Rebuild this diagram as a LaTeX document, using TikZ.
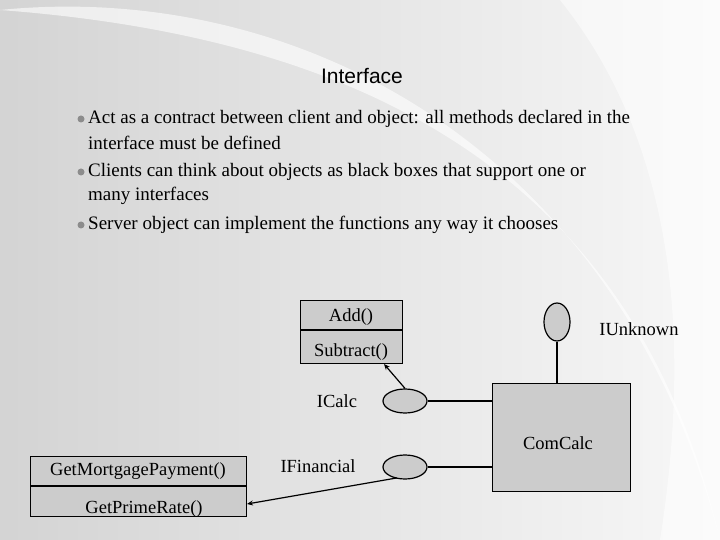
\documentclass[tikz,border=0pt]{standalone}
\usepackage{fontspec}
\setmainfont{Liberation Serif}
\setsansfont{Liberation Sans}
\usetikzlibrary{shapes.geometric,arrows.meta}
\begin{document}
\begin{tikzpicture}[x=1pt,y=-1pt,
  box/.style={draw,line width=1.2pt,fill=black!20},
  iface/.style={draw,line width=1.2pt,fill=black!20,ellipse,inner sep=0pt},
  lbl/.style={font=\fontsize{18.5}{20}\selectfont},
  bul/.style={font=\fontsize{19}{21}\selectfont,anchor=west,inner sep=0pt},
  conn/.style={line width=1.2pt},
  arr/.style={line width=1.2pt,-{Stealth[length=6pt,width=5pt]}}]
\useasboundingbox (0,0) rectangle (720,540);
\shade[left color=black!17,right color=black!3] (0,0) rectangle (720,540);
\fill[white,opacity=0.6] (0,10) .. controls (300,-20) and (620,150) .. (720,540) -- (720,540) .. controls (640,200) and (400,40) .. (0,10) -- cycle;
\fill[white,opacity=0.5] (560,0) .. controls (680,150) and (690,350) .. (660,540) -- (720,540) -- (720,0) -- cycle;
\node[font=\sffamily\fontsize{21}{24}\selectfont] (title) at (362,76) {Interface};
\foreach \y/\t [count=\i] in {119/{Act as a contract between client and object: all methods declared in the},143/{interface must be defined},172/{Clients can think about objects as black boxes that support one or},196/{many interfaces},225/{Server object can implement the functions any way it chooses}}{
  \node[bul] (b\i) at (88,\y) {\t};}
\foreach \y [count=\i] in {119,172,225}{\fill[black!45] (81,\y) circle (3.5pt);}
% Add box
\node[box,minimum width=102,minimum height=63,anchor=north west] (calcbox) at (300,300) {};
\draw[line width=1.2pt] (300,330) -- (402,330);
\node[lbl] (add) at (351,317) {Add()};
\node[lbl] (sub) at (351,352) {Subtract()};
% ComCalc
\node[box,minimum width=138,minimum height=108,anchor=north west] (com) at (492,383) {};
\node[lbl] (comlbl) at (558,443) {ComCalc};
% IUnknown
\node[iface,minimum width=26,minimum height=38] (iu) at (557,322) {};
\draw[conn] (iu.south) -- (iu.south |- com.north);
\node[lbl] (iul) at (639,329) {IUnknown};
% ICalc
\node[iface,minimum width=44,minimum height=24] (ic) at (405,401) {};
\draw[conn] (ic.east) -- (ic.east -| com.west);
\node[lbl] (icl) at (337,401) {ICalc};
\coordinate (subt) at (384,364);
\draw[arr] (ic.north) -- (subt);
% IFinancial
\node[iface,minimum width=44,minimum height=24] (if) at (405,467) {};
\draw[conn] (if.east) -- (if.east -| com.west);
\node[lbl] (ifl) at (318,466) {IFinancial};
% Get box
\node[box,minimum width=216,minimum height=60,anchor=north west] (getbox) at (30,456) {};
\draw[line width=1.2pt] (30,486) -- (246,486);
\node[lbl] (gm) at (138,471) {GetMortgagePayment()};
\node[lbl] (gp) at (144,509) {GetPrimeRate()};
\coordinate (gt) at (247,504);
\draw[arr] (if.south west) ++(8,2) -- (gt);
\end{tikzpicture}
\end{document}
